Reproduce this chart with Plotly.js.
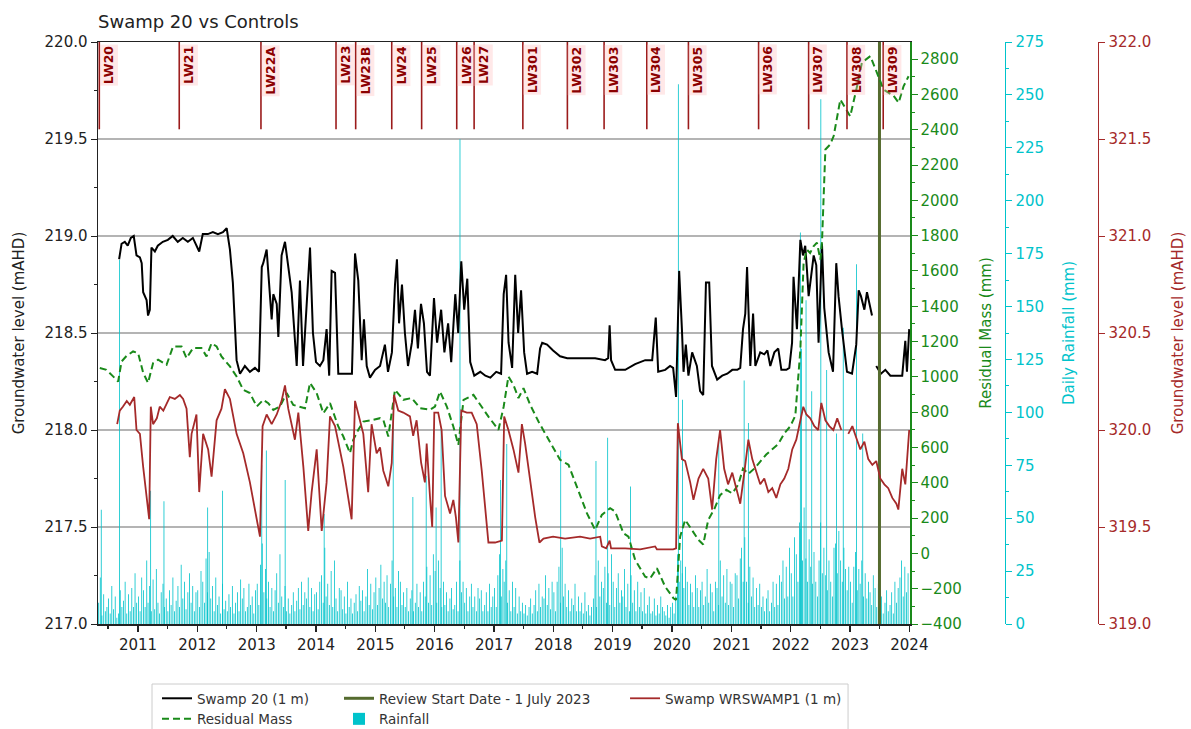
<!DOCTYPE html>
<html><head><meta charset="utf-8">
<script src="https://cdn.plot.ly/plotly-3.0.1.min.js"></script>
<style>html,body{margin:0;padding:0;background:#fff}#chart{width:1191px;height:729px}</style>
</head><body><div id="chart"></div>
<script>
// ---------------- DATA ----------------
const swampDates = [
 '2010-09-07','2010-09-22','2010-10-12','2010-10-30','2010-11-18','2010-12-06','2010-12-23',
 '2011-01-13','2011-01-24','2011-02-02','2011-02-23','2011-03-04','2011-03-15','2011-03-25','2011-04-15','2011-05-03','2011-06-03','2011-07-04','2011-08-03','2011-09-03','2011-10-04','2011-11-04','2011-12-05',
 '2012-01-13','2012-02-04','2012-03-06','2012-04-06','2012-05-07','2012-06-07','2012-06-30','2012-07-20','2012-08-07','2012-08-30','2012-09-20','2012-10-20','2012-11-20','2012-12-21',
 '2013-01-15','2013-02-01','2013-02-10','2013-03-03','2013-03-23','2013-04-03','2013-04-13','2013-05-04','2013-05-14','2013-06-03','2013-06-24','2013-07-14','2013-08-04','2013-09-04','2013-09-24','2013-10-13','2013-11-25','2013-12-13',
 '2014-01-01','2014-01-25','2014-02-15','2014-03-07','2014-03-23','2014-04-07','2014-04-28','2014-05-18','2014-06-28','2014-08-10','2014-08-29','2014-09-18','2014-10-09','2014-10-23','2014-11-09','2014-11-29','2014-12-30',
 '2015-01-30','2015-03-01','2015-03-20','2015-04-13','2015-05-02','2015-05-14','2015-05-27','2015-06-14','2015-07-02','2015-07-21','2015-08-14','2015-09-02','2015-09-20','2015-10-09','2015-10-27','2015-11-15','2015-12-03','2015-12-28',
 '2016-01-16','2016-02-10','2016-03-01','2016-03-24','2016-04-12','2016-05-07','2016-05-25','2016-06-13','2016-07-01','2016-07-20','2016-08-07','2016-09-01','2016-10-08','2016-11-08','2016-12-09',
 '2017-01-14','2017-02-13','2017-03-01','2017-03-16','2017-03-31','2017-04-22','2017-05-11','2017-05-29','2017-06-16','2017-07-05','2017-07-23','2017-08-23','2017-09-23','2017-10-11','2017-10-24','2017-11-23','2017-12-30',
 '2018-02-11','2018-03-27','2018-05-15','2018-07-15','2018-09-15','2018-11-15','2018-12-04','2018-12-13','2018-12-22',
 '2019-01-16','2019-03-19','2019-05-19','2019-07-20','2019-09-01','2019-09-23','2019-10-08','2019-11-20','2019-12-20',
 '2020-01-08','2020-01-26','2020-02-14','2020-03-02','2020-03-12','2020-03-26','2020-04-11','2020-05-04','2020-06-02','2020-06-22','2020-07-11','2020-07-28','2020-08-17','2020-09-03','2020-10-05','2020-11-05','2020-12-06',
 '2021-01-06','2021-02-06','2021-02-24','2021-03-13','2021-03-27','2021-04-07','2021-04-27','2021-05-14','2021-05-28','2021-06-27','2021-07-22','2021-08-10','2021-08-28','2021-09-22','2021-10-16','2021-11-04','2021-12-05','2021-12-23',
 '2022-01-09','2022-01-18','2022-02-08','2022-03-01','2022-03-17','2022-03-31','2022-04-11','2022-04-21','2022-05-06','2022-05-22','2022-06-07','2022-06-21','2022-07-12','2022-07-26','2022-08-22','2022-09-18','2022-10-08','2022-10-22','2022-11-12','2022-12-13',
 '2023-01-13','2023-02-08','2023-02-23','2023-03-09','2023-03-30','2023-04-15','2023-05-16','2023-05-30','2023-06-11','2023-07-10','2023-08-06','2023-09-06','2023-10-06','2023-11-18','2023-12-07','2023-12-17','2023-12-31'
];
const swampLevel = [
 218.88,218.96,218.97,218.95,218.99,219.00,218.90,
 218.89,218.86,218.71,218.67,218.59,218.62,218.94,218.92,218.95,218.97,218.98,219.00,218.97,218.99,218.97,218.99,
 218.92,219.01,219.01,219.02,219.01,219.02,219.04,218.93,218.76,218.36,218.29,218.33,218.30,218.32,
 218.30,218.84,218.86,218.93,218.71,218.57,218.70,218.65,218.48,218.90,218.97,218.84,218.71,218.33,218.77,218.33,218.94,218.50,
 218.35,218.33,218.36,218.52,218.28,218.82,218.81,218.29,218.29,218.29,218.91,218.77,218.36,218.57,218.33,218.27,218.31,
 218.33,218.44,218.30,218.40,218.75,218.88,218.55,218.75,218.50,218.33,218.45,218.62,218.42,218.65,218.55,218.30,218.28,218.68,
 218.45,218.62,218.40,218.55,218.35,218.70,218.50,218.87,218.62,218.78,218.35,218.28,218.30,218.28,218.27,
 218.30,218.29,218.70,218.80,218.45,218.32,218.80,218.50,218.72,218.40,218.29,218.30,218.29,218.42,218.45,218.44,218.41,
 218.38,218.37,218.37,218.37,218.37,218.36,218.37,218.54,218.36,
 218.31,218.31,218.34,218.36,218.36,218.58,218.30,218.31,218.33,
 218.32,218.17,218.82,218.52,218.30,218.44,218.28,218.40,218.33,218.20,218.18,218.76,218.76,218.33,218.26,218.28,218.29,
 218.31,218.31,218.32,218.52,218.60,218.84,218.33,218.60,218.33,218.40,218.39,218.41,218.33,218.40,218.42,218.31,218.31,218.32,
 218.45,218.79,218.52,218.98,218.90,218.95,218.82,218.69,218.79,218.90,218.85,218.45,218.96,218.63,218.40,218.30,218.86,218.69,218.52,218.30,
 218.29,218.44,218.72,218.69,218.62,218.71,218.59,null,218.33,218.29,218.31,218.28,218.28,218.28,218.46,218.30,218.52
];

const wrDates = [
 '2010-08-26','2010-09-11','2010-09-30','2010-10-24','2010-11-12','2010-11-30','2010-12-09','2010-12-23',
 '2011-01-13','2011-02-02','2011-02-23','2011-03-11','2011-03-21','2011-04-04','2011-04-27','2011-05-15','2011-06-06','2011-06-27','2011-07-16','2011-08-16','2011-09-16','2011-10-06','2011-10-27','2011-11-16','2011-11-27','2011-12-27',
 '2012-01-13','2012-02-06','2012-03-08','2012-03-29','2012-04-29','2012-05-29','2012-06-19','2012-07-20','2012-08-30','2012-10-10','2012-11-20',
 '2013-01-01','2013-01-21','2013-02-06','2013-03-03','2013-04-03','2013-05-04','2013-06-03','2013-06-24','2013-07-14','2013-08-04','2013-08-24','2013-09-14','2013-10-15','2013-11-14','2013-12-05',
 '2014-01-05','2014-02-05','2014-03-07','2014-03-28','2014-04-28','2014-06-18','2014-08-08','2014-08-29','2014-09-28','2014-10-19','2014-11-18','2014-12-09',
 '2015-01-09','2015-01-30','2015-02-19','2015-03-22','2015-04-12','2015-04-26','2015-05-22','2015-06-22','2015-08-02','2015-08-22','2015-09-12','2015-10-10','2015-11-02','2015-11-13','2015-12-03','2015-12-17','2015-12-30',
 '2016-01-23','2016-02-13','2016-03-05','2016-04-05','2016-04-25','2016-05-11','2016-05-26','2016-06-13','2016-07-17','2016-08-16','2016-09-16','2016-10-17','2016-11-12','2016-11-27',
 '2017-01-07','2017-02-18','2017-03-04','2017-03-30','2017-04-30','2017-05-31','2017-06-21','2017-07-11','2017-08-11','2017-09-11','2017-10-07','2017-11-01','2017-12-30',
 '2018-03-14','2018-06-14','2018-08-15','2018-10-16','2018-10-26','2018-11-22','2018-12-13','2018-12-22',
 '2019-03-19','2019-06-19','2019-09-19','2019-09-30',
 '2020-01-08','2020-01-26','2020-02-06','2020-03-02','2020-03-22','2020-04-22','2020-05-12','2020-06-12','2020-07-11','2020-08-11','2020-09-04','2020-09-29','2020-10-23','2020-11-17','2020-12-11',
 '2021-01-06','2021-02-01','2021-02-24','2021-03-21','2021-04-15','2021-05-09','2021-06-03','2021-06-27','2021-07-22','2021-08-16','2021-09-09','2021-10-04','2021-10-29','2021-11-22','2021-12-17',
 '2022-01-10','2022-02-04','2022-03-01','2022-03-19','2022-04-07','2022-05-01','2022-05-26','2022-06-19','2022-07-08','2022-08-02','2022-08-26','2022-09-20','2022-10-14','2022-11-08','2022-11-25','2022-12-21',
 '2023-01-15','2023-02-08','2023-03-05','2023-03-30','2023-04-23','2023-05-18','2023-06-11','2023-07-06','2023-07-31','2023-08-24','2023-09-18','2023-10-13','2023-10-25','2023-11-18','2023-12-07','2023-12-31'
];
const wrLevel = [
 320.03,320.10,320.12,320.15,320.13,320.16,320.17,320.00,
 319.98,319.81,319.64,319.54,320.12,320.03,320.06,320.12,320.10,320.14,320.17,320.16,320.18,320.16,320.11,319.86,319.98,320.08,
 319.68,319.98,319.90,319.76,320.05,320.11,320.21,320.16,319.98,319.88,319.73,
 319.54,319.45,320.02,320.08,320.03,320.08,320.15,320.23,320.11,320.02,319.95,320.09,319.81,319.48,319.68,
 319.90,319.48,319.73,320.07,320.02,319.81,319.54,320.15,320.05,319.98,319.68,320.03,
 319.88,319.91,319.79,319.71,319.83,320.18,320.10,320.09,320.07,319.97,320.05,319.83,319.73,319.93,319.66,319.50,320.09,
 320.09,320.00,319.66,319.57,319.64,319.55,319.42,320.10,320.09,320.09,320.03,319.79,319.55,319.42,
 319.42,319.43,320.07,320.00,319.90,319.78,320.03,319.93,319.74,319.55,319.42,319.44,319.45,
 319.44,319.45,319.44,319.45,319.40,319.39,319.43,319.39,
 319.39,319.385,319.40,319.385,
 319.385,319.39,320.035,319.85,319.84,319.73,319.64,319.75,319.80,319.75,319.59,319.85,320.00,319.80,319.72,
 319.78,319.70,319.62,319.78,319.95,319.85,319.78,319.72,319.75,319.68,319.70,319.65,319.72,319.75,319.80,
 319.90,319.95,320.05,320.12,320.08,320.06,320.02,320.00,320.14,320.05,320.02,320.00,320.06,320.00,null,319.98,
 320.02,319.96,319.90,319.94,319.85,319.82,319.84,319.75,319.72,319.70,319.65,319.62,319.59,319.80,319.72,320.00
];

const resDates = [
 '2010-05-11','2010-06-21','2010-07-24','2010-09-01','2010-09-22','2010-10-24','2010-12-02',
 '2011-01-02','2011-02-02','2011-03-04','2011-04-04','2011-05-05','2011-06-26','2011-08-05','2011-09-26','2011-10-27','2011-12-06',
 '2012-01-27','2012-02-27','2012-03-29','2012-04-29','2012-05-29','2012-07-20','2012-08-30','2012-10-10','2012-11-20',
 '2013-01-01','2013-02-10','2013-03-13','2013-04-13','2013-05-24','2013-07-04','2013-08-14','2013-09-24','2013-10-25','2013-11-25',
 '2014-01-05','2014-02-15','2014-03-28','2014-05-18','2014-06-18','2014-07-29','2014-08-18','2014-09-18','2014-10-19','2014-12-19',
 '2015-01-30','2015-02-19','2015-03-22','2015-05-02','2015-06-22','2015-08-13','2015-10-03','2015-12-03',
 '2016-01-03','2016-02-03','2016-03-16','2016-04-25','2016-05-26','2016-06-27','2016-08-27','2016-10-08','2016-11-27',
 '2017-01-28','2017-03-01','2017-03-30','2017-04-30','2017-05-31','2017-07-01','2017-08-11','2017-10-01','2017-11-22',
 '2018-02-11','2018-04-04','2018-05-25','2018-07-26','2018-09-15','2018-10-26','2018-12-16',
 '2019-01-16','2019-03-08','2019-04-08','2019-05-19','2019-07-20','2019-08-19','2019-09-30','2019-11-20',
 '2020-01-10','2020-01-26','2020-02-20','2020-03-22','2020-05-03','2020-06-12','2020-07-11','2020-08-11','2020-09-17','2020-10-23','2020-11-30',
 '2021-01-06','2021-02-12','2021-03-13','2021-04-15','2021-05-21','2021-06-27','2021-08-03','2021-09-09','2021-10-16','2021-11-22','2021-12-29',
 '2022-01-29','2022-03-01','2022-03-21','2022-04-10','2022-04-30','2022-05-21','2022-06-11','2022-07-02','2022-07-12','2022-08-02','2022-09-01','2022-09-22','2022-11-02','2022-12-03',
 '2023-01-02','2023-02-13','2023-03-15','2023-05-06','2023-06-16','2023-07-26','2023-09-26','2023-10-27','2023-11-26','2023-12-27'
];
const resMass = [
 1050,1040,1010,974,1087,1120,1144,
 1135,1023,966,1078,1097,1068,1172,1172,1106,1163,
 1163,1116,1191,1172,1116,1059,1002,927,908,
 832,870,851,813,832,908,841,832,822,966,
 908,794,851,719,662,568,643,700,747,757,
 766,757,662,927,870,880,823,814,
 832,917,832,719,615,870,898,842,775,
 700,832,1002,955,880,936,842,747,662,
 530,502,379,228,133,218,256,
 237,114,95,-37,-132,-142,-84,-189,
 -254,-264,95,190,133,76,50,190,250,330,360,
 340,390,480,450,480,520,560,590,620,680,720,
 780,1154,1647,1721,1702,1740,1760,1665,1760,2288,2317,2364,2571,2524,
 2476,2646,2781,2817,2724,2628,2592,2553,2646,2703
];

// Daily rainfall (mm): three readings per month (around the 4th, 14th, 24th)
const rainYears = [2010,2011,2012,2013,2014,2015,2016,2017,2018,2019,2020,2021,2022,2023];
const rainFirstMonth = [5,1,1,1,1,1,1,1,1,1,1,1,1,1];
const rain2010 = [10,22,4,14,6,8,12,5,18,7,13,3,5,16,8,11,20,5,14,6,17,8,24,10];
const rain2011 = [13,6,22,16,8,30,10,18,6,21,7,26,10,5,15,19,8,12,6,16,9,22,6,11,18,8,28,12,20,7,15,24,10,18,6,15];
const rain2012 = [16,8,25,20,10,31,15,34,12,18,6,22,9,13,5,19,7,11,6,14,8,18,5,10,15,6,21,12,17,6,8,19,9,13,5,16];
const rain2013 = [19,9,28,38,15,26,12,20,8,17,6,16,24,10,33,13,8,18,6,12,5,9,15,6,11,17,7,20,9,15,12,22,8,17,6,14];
const rain2014 = [15,7,20,23,10,36,13,19,9,25,8,30,12,6,17,16,7,13,5,20,8,12,5,10,14,6,18,11,16,6,13,26,9,19,7,15];
const rain2015 = [22,9,17,28,12,20,10,23,8,19,30,13,17,8,25,20,9,15,8,17,6,12,16,6,10,19,8,15,6,20,13,27,10,23,9,33];
const rain2016 = [25,10,30,17,8,20,9,15,6,12,17,7,9,20,6,30,15,20,10,17,6,13,19,8,13,6,17,12,16,6,9,15,6,19,8,13];
const rain2017 = [17,8,23,33,13,26,20,30,10,16,6,20,8,17,5,13,6,10,5,9,4,8,12,5,9,16,6,19,8,13,12,23,9,17,7,20];
const rain2018 = [15,6,20,27,10,36,13,19,8,16,6,12,9,19,6,13,6,10,5,15,6,9,4,8,12,23,8,30,13,20,17,27,10,24,9,33];
const rain2019 = [20,8,17,24,10,16,13,26,8,19,6,23,10,16,6,20,8,15,6,17,5,9,13,5,6,12,4,9,5,13,8,6,4,9,3,8];
const rain2020 = [10,5,13,33,20,30,24,17,27,20,9,19,15,8,23,17,8,16,20,9,13,26,10,19,15,6,20,17,9,30,13,23,10,26,9,20];
const rain2021 = [19,8,24,23,12,31,36,20,41,20,10,27,13,22,8,17,9,19,8,13,6,12,16,6,10,20,8,19,9,23,20,30,12,27,13,36];
const rain2022 = [24,13,41,33,20,48,45,30,55,31,20,40,27,19,34,20,13,30,48,24,36,23,16,30,20,13,36,38,24,44,30,20,36,26,16,27];
const rain2023 = [20,10,27,34,16,26,19,30,13,24,12,20,15,9,23,17,8,19,6,13,5,10,16,6,9,15,5,20,10,17,22,30,13,27,15,24];
const rainByYear = [rain2010,rain2011,rain2012,rain2013,rain2014,rain2015,rain2016,rain2017,rain2018,rain2019,rain2020,rain2021,rain2022,rain2023];
const rainReadDays = ['04','14','24'];
// larger individual rain days
const stormDates = ['2010-05-20','2010-09-10','2011-03-20','2011-06-10','2012-03-05','2012-06-05','2013-02-01','2013-03-01','2013-06-25','2014-02-20',
 '2015-04-21','2015-08-20','2015-11-10','2016-01-10','2016-02-10','2016-06-05','2017-02-10','2017-03-20','2018-02-15','2018-09-20','2018-12-01','2019-04-20',
 '2020-02-09','2020-03-05','2020-10-15','2021-03-20','2021-04-15','2022-03-01','2022-03-08','2022-04-05','2022-05-10','2022-07-05','2022-08-10','2022-10-10','2022-11-20','2023-02-10','2023-03-20'];
const stormMM = [54,172,63,58,55,63,75,82,68,52,
 100,60,70,55,92,229,68,85,82,77,88,65,
 255,106,87,115,95,185,130,153,110,248,120,90,140,170,90];

const reviewDate = '2023-07-01';
const lwNames = ['LW20','LW21','LW22A','LW23','LW23B','LW24','LW25','LW26','LW27','LW301','LW302','LW303','LW304','LW305','LW306','LW307','LW308','LW309'];
const lwDates = ['2010-05-08','2011-09-12','2013-01-27','2014-05-04','2014-09-02','2015-04-12','2015-10-13','2016-05-16','2016-08-31','2017-06-27','2018-03-28','2018-11-09','2019-07-30','2020-04-11','2021-06-17','2022-04-21','2022-12-13','2023-07-24'];

// ---------------- BUILD ----------------
const rainX = [], rainY = [];
rainYears.forEach((yr, k) => {
  rainByYear[k].forEach((v, i) => {
    const m = rainFirstMonth[k] + Math.floor(i / 3);
    rainX.push(yr + '-' + String(m).padStart(2, '0') + '-' + rainReadDays[i % 3]);
    rainY.push(v);
  });
});
stormDates.forEach((d, i) => { rainX.push(d); rainY.push(stormMM[i]); });

const FONT = 'DejaVu Sans';
const CYAN = '#00c3cb', GREEN = '#1a8a1a', RED = '#a52a2a', OLIVE = '#556b2f', LWRED = '#9b1b1b';
const leftRange = [217, 220];
const DAY = 86400000;

const traces = [
  {type:'bar', x: rainX, y: rainY, yaxis:'y', name:'Rainfall', width: 5*DAY,
   marker:{color: CYAN, line:{width:0}}, legend:'legend2', legendrank:2},
  {type:'scatter', mode:'lines', x: swampDates, y: swampLevel, yaxis:'y2', name:'Swamp 20 (1 m)',
   line:{color:'#000', width:2}, legend:'legend', legendrank:1},
  {type:'scatter', mode:'lines', x: [reviewDate, reviewDate], y: leftRange, yaxis:'y2',
   name:'Review Start Date - 1 July 2023', line:{color: OLIVE, width:3}, legend:'legend2', legendrank:1},
  {type:'scatter', mode:'lines', x: resDates, y: resMass, yaxis:'y3', name:'Residual Mass',
   line:{color: GREEN, width:2, dash:'7px,4px'}, legend:'legend', legendrank:2},
  {type:'scatter', mode:'lines', x: wrDates, y: wrLevel, yaxis:'y4', name:'Swamp WRSWAMP1 (1 m)',
   line:{color: RED, width:1.8}, legend:'legend3', legendrank:1}
];

const shapes = lwDates.map(d => ({type:'line', xref:'x', yref:'paper', x0:d, x1:d, y0:0.85, y1:1,
  line:{color: LWRED, width:1.6}}));
shapes.push({type:'rect', xref:'paper', yref:'paper', x0:0.0508, x1:0.7056, y0:-0.1031, y1:-0.3,
  line:{color:'#cccccc', width:1}, fillcolor:'rgba(0,0,0,0)'});

const annotations = lwNames.map((n, i) => ({x: lwDates[i], xref:'x', y: 0.996, yref:'paper',
  xanchor:'left', yanchor:'top', text: n, textangle:-90, showarrow:false,
  font:{family: FONT, size:12.5, color:'#8b0000', weight:'bold'},
  bgcolor:'rgba(255,190,190,0.35)', borderpad:1}));

const tickf = (c) => ({family: FONT, size:15, color: c});
const legendBase = {orientation:'v', yanchor:'top', xanchor:'left', y:-0.1014, bgcolor:'rgba(0,0,0,0)',
  font:{family: FONT, size:13.5, color:'#333'}, tracegroupgap:0};

const layout = {
  width:1191, height:729,
  margin:{l:98, r:30, t:42, b:105, autoexpand:false},
  paper_bgcolor:'#fff', plot_bgcolor:'rgba(0,0,0,0)',
  font:{family: FONT, size:15, color:'#222'},
  title:{text:'Swamp 20 vs Controls', font:{family: FONT, size:18, color:'#222'},
    x:0, xref:'paper', xanchor:'left', y:0.97, yref:'container', yanchor:'middle'},
  showlegend:true,
  legend: Object.assign({}, legendBase, {x:0.0555}),
  legend2: Object.assign({}, legendBase, {x:0.2267}),
  legend3: Object.assign({}, legendBase, {x:0.4958}),
  xaxis:{type:'date', domain:[0, 0.7639], range:['2010-04-30','2024-01-05'], anchor:'y',
    dtick:'M12', tick0:'2011-01-01', tickformat:'%Y', ticks:'outside', ticklen:6, tickwidth:1.3, tickcolor:'#222',
    showline:true, mirror:true, linecolor:'#222', linewidth:1.5, showgrid:false, zeroline:false,
    tickfont: tickf('#222'),
    minor:{dtick:'M6', ticks:'outside', ticklen:3, tickcolor:'#222'}},
  yaxis:{range:[0,275], side:'right', anchor:'free', position:0.8532, dtick:25, tick0:0,
    showgrid:false, zeroline:false, showline:true, linecolor: CYAN, linewidth:1.5,
    ticks:'outside', ticklen:6, tickcolor: CYAN, tickfont: tickf(CYAN),
    minor:{dtick:12.5, ticks:'outside', ticklen:3, tickcolor: CYAN},
    title:{text:'Daily Rainfall (mm)', font: tickf(CYAN), standoff:20}},
  yaxis2:{overlaying:'y', side:'left', anchor:'x', range: leftRange, dtick:0.5, tick0:217, tickformat:'.1f',
    showgrid:true, gridcolor:'#b4b4b4', gridwidth:1.5, zeroline:false, showline:true, linecolor:'#222', linewidth:1.5,
    ticks:'outside', ticklen:6, tickcolor:'#222', tickfont: tickf('#222'),
    minor:{dtick:0.25, ticks:'outside', ticklen:3, tickcolor:'#222'},
    title:{text:'Groundwater level (mAHD)', font: tickf('#222'), standoff:16}},
  yaxis3:{overlaying:'y', side:'right', anchor:'x', range:[-400, 2897], dtick:200, tick0:0,
    showgrid:false, zeroline:false, showline:true, linecolor: GREEN, linewidth:1.5,
    ticks:'outside', ticklen:6, tickcolor: GREEN, tickfont: tickf(GREEN),
    minor:{dtick:100, ticks:'outside', ticklen:3, tickcolor: GREEN},
    title:{text:'Residual Mass (mm)', font: tickf(GREEN), standoff:20}},
  yaxis4:{overlaying:'y', side:'right', anchor:'free', position:0.9407, range:[319,322], dtick:0.5, tick0:319, tickformat:'.1f',
    showgrid:false, zeroline:false, showline:true, linecolor: RED, linewidth:1.5,
    ticks:'outside', ticklen:6, tickcolor: RED, tickfont: tickf(RED),
    title:{text:'Groundwater level (mAHD)', font: tickf(RED), standoff:22}},
  shapes: shapes,
  annotations: annotations
};

Plotly.newPlot('chart', traces, layout, {displayModeBar:false, staticPlot:true});
</script></body></html>
